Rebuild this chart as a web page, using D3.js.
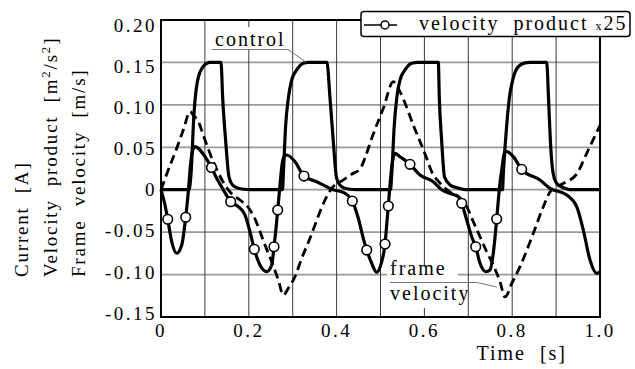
<!DOCTYPE html>
<html>
<head>
<meta charset="utf-8">
<script src="https://cdn.jsdelivr.net/npm/d3@7"></script>
<style>
  html, body { margin: 0; padding: 0; background: #fff; }
  svg { display: block; }
</style>
</head>
<body>
<svg id="chart" width="635" height="369"></svg>
<script>
// Time axis [s] and value axis ticks
const timeTicks = [0, 0.2, 0.4, 0.6, 0.8, 1.0];
const timeTickLabels = ["0", "0.2", "0.4", "0.6", "0.8", "1.0"];
const timeGrid = [0.1, 0.2, 0.3, 0.4, 0.5, 0.6, 0.7, 0.8, 0.9];
const valueTicks = [0.20, 0.15, 0.10, 0.05, 0, -0.05, -0.10, -0.15];
const valueTickLabels = ["0.20", "0.15", "0.10", "0.05", "0", "-0.05", "-0.10", "-0.15"];
const valueGrid = [0.15, 0.10, 0.05, 0, -0.05, -0.10];

// Control current [A]  (t, value)
const control = [
  [0, 0], [0.0638, 0], [0.0683, 0.018], [0.0752, 0.090], [0.0831, 0.128], [0.0957, 0.145],
  [0.1116, 0.150], [0.1367, 0.150], [0.1405, 0.108], [0.1474, 0.057], [0.1549, 0.015],
  [0.1647, 0.0047], [0.1838, 0.0008], [0.207, 0],
  [0.2768, 0], [0.2786, 0.0173], [0.284, 0.0762], [0.290, 0.1077], [0.2977, 0.1293],
  [0.3091, 0.1411], [0.3241, 0.149], [0.335, 0.150], [0.378, 0.150], [0.385, 0.108],
  [0.3925, 0.057], [0.3998, 0.014], [0.4116, 0.0035], [0.4267, 0.0008], [0.446, 0],
  [0.5228, 0], [0.5255, 0.0173], [0.5314, 0.0762], [0.5369, 0.1077], [0.5444, 0.1293],
  [0.5558, 0.1411], [0.5711, 0.149], [0.585, 0.150], [0.6317, 0.150], [0.634, 0.108],
  [0.6394, 0.057], [0.6458, 0.015], [0.6583, 0.0057], [0.6743, 0.0024], [0.697, 0],
  [0.778, 0], [0.7797, 0.0173], [0.7875, 0.0762], [0.7934, 0.1077], [0.8012, 0.1293],
  [0.8139, 0.145], [0.8292, 0.1495], [0.840, 0.150], [0.8786, 0.150], [0.8827, 0.108],
  [0.8872, 0.055], [0.893, 0.020], [0.900, 0.0085], [0.9089, 0.0045], [0.920, 0.0017],
  [0.9317, 0], [1.0, 0]
];

// Velocity product x25 [m^2/s^2]  (t, value)
const velocityProduct = [
  [0, 0], [0.0091, -0.0180], [0.0153, -0.0349], [0.0244, -0.0613], [0.0358, -0.0749],
  [0.0472, -0.0652], [0.0563, -0.0325], [0.0622, -0.0024], [0.0672, 0.0291], [0.0713, 0.0448],
  [0.0774, 0.0507], [0.0888, 0.0468], [0.1002, 0.0389], [0.1150, 0.0262], [0.1269, 0.0134],
  [0.1419, 0], [0.1588, -0.0141], [0.1761, -0.0200], [0.1913, -0.0298], [0.2027, -0.0495],
  [0.2125, -0.0702], [0.2255, -0.0887], [0.2408, -0.0966], [0.2522, -0.0887], [0.2574, -0.0672],
  [0.2620, -0.0455], [0.2658, -0.0239], [0.2711, 0.0055], [0.2756, 0.0291], [0.2802, 0.0389],
  [0.2863, 0.0409], [0.3052, 0.0330], [0.3257, 0.0161], [0.3547, 0.0094], [0.3774, 0.0035],
  [0.3925, 0], [0.4153, -0.0031], [0.4358, -0.0133], [0.4494, -0.0337], [0.4608, -0.0573],
  [0.4686, -0.0711], [0.4800, -0.0867], [0.4913, -0.0973], [0.5027, -0.0848], [0.5103, -0.0640],
  [0.5141, -0.0416], [0.5178, -0.0192], [0.5216, 0.0055], [0.5262, 0.0291], [0.5330, 0.0429],
  [0.5444, 0.0389], [0.5672, 0.0299], [0.5900, 0.0173], [0.6203, 0.0094], [0.6394, 0],
  [0.6622, -0.0051], [0.6772, -0.0082], [0.6850, -0.0160], [0.6964, -0.0357], [0.7077, -0.0554],
  [0.7169, -0.0672], [0.7267, -0.0867], [0.7403, -0.0966], [0.7494, -0.0946], [0.7569, -0.0749],
  [0.7647, -0.0345], [0.7706, 0], [0.7761, 0.0232], [0.7836, 0.0448], [0.7875, 0.0448],
  [0.8025, 0.0389], [0.8216, 0.0240], [0.8633, 0.0114], [0.8861, 0.0016], [0.9241, -0.0062],
  [0.9469, -0.0200], [0.9620, -0.0475], [0.9772, -0.0828], [0.9925, -0.0985], [1.0, -0.0966]
];

// Sample times carrying a circle marker on the velocity product curve
const velocityMarkerTimes = [
  0.0153, 0.0563, 0.1150, 0.1588, 0.2125, 0.2574, 0.2658, 0.3257, 0.4358, 0.4686,
  0.5103, 0.5178, 0.5672, 0.6850, 0.7169, 0.7647, 0.8216
];

// Frame velocity [m/s]  (t, value)
const frameVelocity = [
  [0, 0], [0.0166, 0.0232], [0.0358, 0.0488], [0.0508, 0.0703], [0.0661, 0.0919],
  [0.0736, 0.0880], [0.0850, 0.0801], [0.1002, 0.0586], [0.1191, 0.0330], [0.1390, 0.0114],
  [0.1572, -0.0027], [0.1800, -0.0121], [0.1982, -0.0204], [0.2141, -0.0345], [0.2369, -0.0652],
  [0.2522, -0.0848], [0.2672, -0.1064], [0.2786, -0.1241], [0.2900, -0.1162], [0.3052, -0.1025],
  [0.3205, -0.0808], [0.3394, -0.0573], [0.3622, -0.0259], [0.3736, -0.0121], [0.3888, 0.0016],
  [0.4146, 0.0114], [0.4351, 0.0185], [0.4533, 0.0244], [0.4670, 0.0409], [0.4800, 0.0606],
  [0.5064, 0.0959], [0.5292, 0.1273], [0.5444, 0.1155], [0.5747, 0.0762], [0.6052, 0.0370],
  [0.6166, 0.0212], [0.6355, 0.0079], [0.6583, -0.0027], [0.6811, -0.0098], [0.6964, -0.0200],
  [0.7114, -0.0377], [0.7267, -0.0554], [0.7419, -0.0731], [0.7569, -0.0887], [0.7722, -0.1084],
  [0.7836, -0.1264], [0.7995, -0.1099], [0.8178, -0.0907], [0.8481, -0.0514], [0.8709, -0.0200],
  [0.8861, -0.0027], [0.9043, 0.0044], [0.9226, 0.0091], [0.9469, 0.0185], [0.9697, 0.0429],
  [1.0, 0.0760]
];

const FONT = '"Liberation Serif"';
const svg = d3.select("#chart");
const plot = { left: 161, right: 600, top: 20, bottom: 317 };

// every text element gets the serif face inline
function serif(sel, size, spacing) {
  return sel.style("font-family", FONT).style("font-size", size + "px")
    .style("letter-spacing", spacing + "px").style("white-space", "pre").attr("fill", "#000");
}

const x = d3.scaleLinear().domain([0, 1]).range([plot.left, plot.right]);
const y = d3.scaleLinear().domain([-0.15, 0.20]).range([plot.bottom, plot.top]);
// tick labels sit on a slightly tighter ladder than the grid
const yLabel = d3.scaleLinear().domain([-0.15, 0.20]).range([313, 25]);

// grid
const grid = svg.append("g");
grid.selectAll("line.h").data(valueGrid).join("line")
  .attr("x1", plot.left).attr("x2", plot.right)
  .attr("y1", d => y(d)).attr("y2", d => y(d))
  .attr("stroke", "#9a9a9a").attr("stroke-width", 1.8);
grid.selectAll("line.v").data(timeGrid).join("line")
  .attr("y1", plot.top).attr("y2", plot.bottom)
  .attr("x1", d => x(d)).attr("x2", d => x(d))
  .attr("stroke", "#3a3a3a").attr("stroke-width", 1);

// curves
const line = d3.line().x(d => x(d[0])).y(d => y(d[1])).curve(d3.curveMonotoneX);

svg.append("path").datum(frameVelocity)
  .attr("d", line).attr("fill", "none").attr("stroke", "#000")
  .attr("stroke-width", 2.8).attr("stroke-dasharray", "9,5");

svg.append("path").datum(control)
  .attr("d", line).attr("fill", "none").attr("stroke", "#000")
  .attr("stroke-width", 3.2).attr("stroke-linejoin", "round");

svg.append("path").datum(velocityProduct)
  .attr("d", line).attr("fill", "none").attr("stroke", "#000")
  .attr("stroke-width", 3.2).attr("stroke-linejoin", "round");

const markerPoints = velocityMarkerTimes.map(t => velocityProduct.find(d => d[0] === t));
svg.append("g").selectAll("circle").data(markerPoints).join("circle")
  .attr("cx", d => x(d[0])).attr("cy", d => y(d[1])).attr("r", 4.8)
  .attr("fill", "#fff").attr("stroke", "#000").attr("stroke-width", 1.6);

// curve labels with leader lines
function curveLabel(lines, bx, by, bw, bh, underline, leader) {
  const g = svg.append("g");
  g.append("rect").attr("x", bx).attr("y", by).attr("width", bw).attr("height", bh).attr("fill", "#fff");
  lines.forEach(l => {
    serif(g.append("text").attr("x", l.x).attr("y", l.y), 20, 2).text(l.text);
  });
  g.append("line").attr("x1", underline[0]).attr("x2", underline[1])
    .attr("y1", underline[2]).attr("y2", underline[2])
    .attr("stroke", "#777").attr("stroke-width", 1);
  g.append("line").attr("x1", leader[0]).attr("y1", leader[1])
    .attr("x2", leader[2]).attr("y2", leader[3])
    .attr("stroke", "#777").attr("stroke-width", 1);
}
curveLabel([{ text: "control", x: 215, y: 46 }], 211, 27, 80, 23, [212, 288, 49.5], [288, 49.5, 306, 62]);
curveLabel([{ text: "frame", x: 390, y: 275 }, { text: "velocity", x: 390, y: 300 }],
  387, 266, 71, 42, [390, 477, 282.5], [477, 282.5, 497, 287]);

// frame
svg.append("rect").attr("x", plot.left).attr("y", plot.top)
  .attr("width", plot.right - plot.left).attr("height", plot.bottom - plot.top)
  .attr("fill", "none").attr("stroke", "#000").attr("stroke-width", 2);

// tick labels
serif(svg.append("g").selectAll("text").data(valueTicks).join("text")
  .attr("x", 157).attr("y", d => yLabel(d)).attr("dy", "0.35em")
  .attr("text-anchor", "end"), 19, 2.5)
  .text((d, i) => valueTickLabels[i]);

serif(svg.append("g").selectAll("text").data(timeTicks).join("text")
  .attr("x", d => x(d)).attr("y", 337)
  .attr("text-anchor", "middle"), 19, 2.5)
  .text((d, i) => timeTickLabels[i]);

// axis titles
serif(svg.append("text").attr("x", 567).attr("y", 360).attr("text-anchor", "end"), 20, 2)
  .text("Time  [s]");

const yTitles = [
  { base: 28, parts: [{ t: "Current  [A]" }] },
  { base: 57, parts: [{ t: "Velocity  product  [m" }, { t: "2", sup: true }, { t: "/s" }, { t: "2", sup: true }, { t: "]" }] },
  { base: 85, parts: [{ t: "Frame  velocity  [m/s]" }] }
];
yTitles.forEach(tl => {
  const txt = serif(svg.append("text")
    .attr("transform", `translate(${tl.base},277) rotate(-90)`), 19, 1.8);
  tl.parts.forEach(p => {
    const s = txt.append("tspan").text(p.t);
    if (p.sup) s.style("font-size", "13px").attr("baseline-shift", "super");
  });
});

// legend
const lg = svg.append("g");
lg.append("rect").attr("x", 361).attr("y", 11.5).attr("width", 269).attr("height", 25)
  .attr("rx", 3).attr("fill", "#fff").attr("stroke", "#000").attr("stroke-width", 1.5);
lg.append("line").attr("x1", 364).attr("x2", 397).attr("y1", 25).attr("y2", 25)
  .attr("stroke", "#000").attr("stroke-width", 1.5);
lg.append("circle").attr("cx", 385).attr("cy", 25).attr("r", 4)
  .attr("fill", "#fff").attr("stroke", "#000").attr("stroke-width", 1.5);
const lt = serif(lg.append("text").attr("x", 419).attr("y", 30), 20, 2);
lt.append("tspan").text("velocity  product ");
lt.append("tspan").style("font-size", "12px").text("x");
lt.append("tspan").text("25");
</script>
</body>
</html>
